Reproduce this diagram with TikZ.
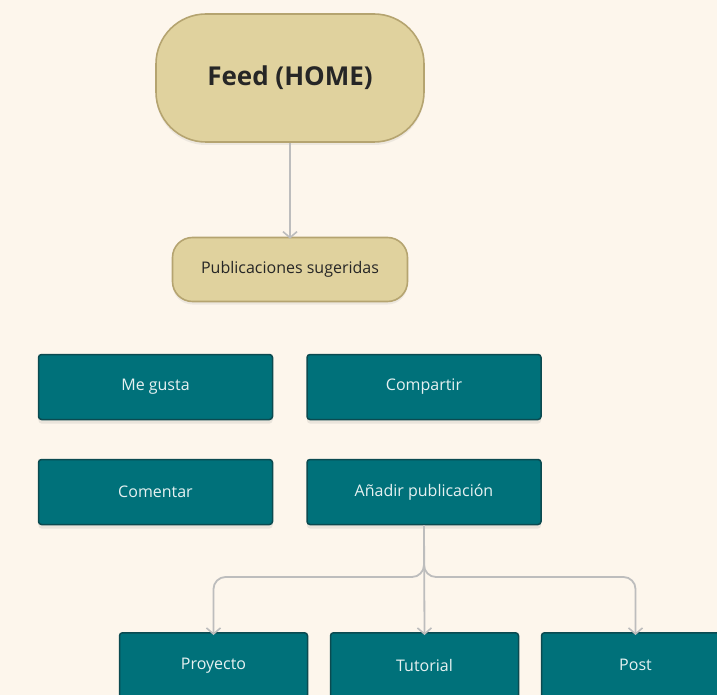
\documentclass[tikz,border=0pt]{standalone}
\usepackage{fontspec}
\setmainfont{Open Sans}
\usetikzlibrary{arrows.meta,shadows}
\definecolor{bgc}{HTML}{FDF6EC}
\definecolor{sandfill}{HTML}{E0D29E}
\definecolor{sanddraw}{HTML}{B5A470}
\definecolor{tealfill}{HTML}{00717A}
\definecolor{tealdraw}{HTML}{0B4A50}
\definecolor{tealtext}{HTML}{E6F1F1}
\definecolor{linec}{HTML}{BDBDBD}
\tikzset{
  sandbox/.style={draw=sanddraw, line width=1.6pt, fill=sandfill, text=black!85,
    drop shadow={opacity=0.12, shadow xshift=0pt, shadow yshift=-3pt}},
  tealbox/.style={draw=tealdraw, line width=1.5pt, fill=tealfill, text=tealtext,
    rounded corners=3pt, minimum width=234pt, minimum height=65pt, inner sep=0pt,
    font=\fontsize{16}{18}\selectfont,
    drop shadow={opacity=0.15, shadow xshift=0pt, shadow yshift=-4pt}},
  smallbox/.style={tealbox, minimum width=188pt},
  conn/.style={draw=linec, line width=1.8pt, -{Straight Barb[length=6pt,width=14pt,line width=1.6pt]}},
}
\begin{document}
\begin{tikzpicture}[x=1pt,y=-1pt]
\fill[bgc] (0,0) rectangle (717,695);
\useasboundingbox (0,0) rectangle (717,695);

\node[sandbox, rounded corners=50pt, minimum width=268pt, minimum height=128pt,
  font=\fontsize{26}{30}\selectfont\bfseries] (feed) at (290,78) {Feed (HOME)};
\node[sandbox, rounded corners=20pt, minimum width=235pt, minimum height=64pt,
  font=\fontsize{16}{18}\selectfont] (pub) at (290,269.5) {Publicaciones sugeridas};

\node[tealbox] (gusta) at (155.5,387) {Me gusta};
\node[tealbox] (comp) at (424,387) {Compartir};
\node[tealbox] (coment) at (155.5,492) {Comentar};
\node[tealbox] (anadir) at (424,492) {Añadir publicación};

\node[smallbox, anchor=north] (proy) at (213.5,632) {Proyecto};
\node[smallbox, anchor=north] (tut) at (424.5,632) {Tutorial};
\node[smallbox, anchor=north] (post) at (635.5,632) {Post};

\draw[conn] (feed.south) -- ([yshift=-2pt]pub.north);

\coordinate (split) at (424,577);
\draw[conn, rounded corners=12pt] (anadir.south) -- (split) -- (proy.north |- split) -- ([yshift=-3pt]proy.north);
\draw[conn, rounded corners=12pt] (anadir.south) -- (split) -- (post.north |- split) -- ([yshift=-3pt]post.north);
\draw[conn] (anadir.south) -- ([yshift=-3pt]tut.north);
\end{tikzpicture}
\end{document}
